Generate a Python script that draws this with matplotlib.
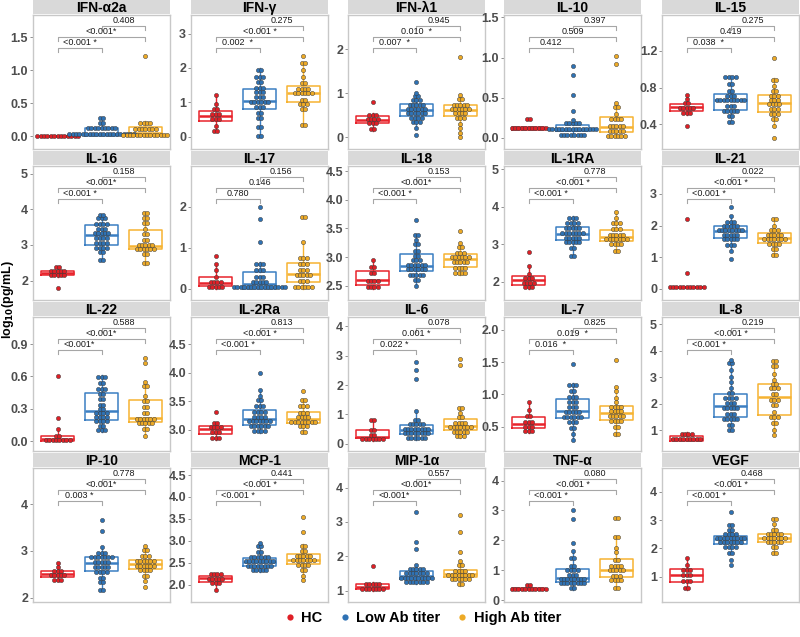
import numpy as np
import matplotlib
matplotlib.use('Agg')
import matplotlib.pyplot as plt
from matplotlib.lines import Line2D


# ---- values (log10 pg/mL) ----
ifna2a_hc = [0, 0, 0, 0, 0, 0, 0, 0, 0, 0, 0, 0, 0]
ifna2a_low = [0, 0, 0, 0, 0, 0, 0, 0, 0, 0, 0, 0, 0, 0, 0, 0.03, 0.03, 0.06, 0.06, 0.06, 0.1, 0.1, 0.1,
              0.13, 0.13, 0.13, 0.13, 0.16, 0.16, 0.2, 0.22, 0.27, 0.3]
ifna2a_high = [0, 0, 0, 0, 0, 0, 0, 0, 0, 0.02, 0.02, 0.05, 0.05, 0.05, 0.09, 0.12, 0.12, 0.15, 0.15, 0.15,
               0.15, 0.18, 0.18, 0.21, 0.23, 1.22]

ifng_hc = [0.15, 0.15, 0.3, 0.45, 0.5, 0.55, 0.6, 0.65, 0.7, 0.75, 0.85, 0.95, 1.2]
ifng_low = [0, 0.05, 0.25, 0.3, 0.5, 0.6, 0.65, 0.75, 0.8, 0.85, 0.9, 0.95, 0.95, 1.0, 1.0, 1.05, 1.05, 1.1,
            1.15, 1.2, 1.25, 1.3, 1.35, 1.38, 1.4, 1.45, 1.55, 1.65, 1.7, 1.7, 1.75, 1.9, 2.0]
ifng_high = [0.3, 0.4, 0.75, 0.85, 0.9, 0.95, 1.0, 1.05, 1.1, 1.2, 1.22, 1.25, 1.25, 1.3, 1.32, 1.35, 1.38,
             1.4, 1.42, 1.5, 1.6, 1.75, 1.95, 2.1, 2.2, 2.35]

ifnl1_hc = [0.15, 0.22, 0.28, 0.32, 0.35, 0.38, 0.4, 0.42, 0.45, 0.48, 0.5, 0.55, 0.8]
ifnl1_low = [0.05, 0.2, 0.3, 0.35, 0.38, 0.4, 0.45, 0.45, 0.48, 0.5, 0.52, 0.55, 0.55, 0.58, 0.58, 0.6, 0.62,
             0.62, 0.65, 0.65, 0.68, 0.7, 0.72, 0.75, 0.75, 0.78, 0.8, 0.85, 0.88, 0.9, 0.95, 1.0, 1.25]
ifnl1_high = [0, 0.1, 0.2, 0.3, 0.4, 0.45, 0.48, 0.5, 0.52, 0.55, 0.58, 0.6, 0.6, 0.62, 0.62, 0.65, 0.68,
              0.7, 0.72, 0.75, 0.75, 0.78, 0.85, 0.9, 0.95, 1.82]

il10_hc = [0.1, 0.1, 0.1, 0.1, 0.1, 0.12, 0.12, 0.12, 0.12, 0.14, 0.14, 0.24, 0.24]
il10_low = [0.02, 0.02, 0.02, 0.02, 0.05, 0.05, 0.05, 0.05, 0.08, 0.08, 0.08, 0.08, 0.08, 0.08, 0.08, 0.08,
            0.1, 0.1, 0.1, 0.13, 0.13, 0.13, 0.13, 0.16, 0.16, 0.16, 0.2, 0.2, 0.22, 0.33, 0.53, 0.78, 0.9]
il10_high = [0.01, 0.01, 0.01, 0.04, 0.04, 0.04, 0.07, 0.07, 0.07, 0.1, 0.1, 0.13, 0.13, 0.13, 0.17, 0.17,
             0.22, 0.22, 0.26, 0.26, 0.3, 0.36, 0.4, 0.43, 0.92, 1.02]

il15_hc = [0.38, 0.5, 0.52, 0.54, 0.56, 0.58, 0.59, 0.6, 0.6, 0.62, 0.64, 0.67, 0.72]
il15_low = [0.42, 0.42, 0.47, 0.5, 0.52, 0.54, 0.56, 0.56, 0.56, 0.58, 0.6, 0.62, 0.64, 0.65, 0.66, 0.66,
            0.66, 0.67, 0.68, 0.68, 0.68, 0.7, 0.7, 0.72, 0.75, 0.78, 0.82, 0.86, 0.9, 0.9, 0.93, 0.93]
il15_high = [0.25, 0.38, 0.45, 0.47, 0.5, 0.52, 0.53, 0.55, 0.56, 0.58, 0.6, 0.6, 0.62, 0.64, 0.65, 0.66,
             0.68, 0.7, 0.71, 0.72, 0.75, 0.78, 0.82, 0.87, 0.9, 1.12]

il16_hc = [1.8, 2.1, 2.12, 2.15, 2.18, 2.2, 2.22, 2.24, 2.25, 2.28, 2.3, 2.35, 2.4]
il16_low = [2.55, 2.62, 2.75, 2.85, 2.88, 2.9, 2.92, 2.95, 3.0, 3.02, 3.05, 3.1, 3.15, 3.2, 3.22, 3.25, 3.28,
            3.3, 3.32, 3.35, 3.38, 3.4, 3.45, 3.5, 3.55, 3.6, 3.62, 3.65, 3.7, 3.75, 3.8, 3.85, 3.85]
il16_high = [2.45, 2.55, 2.7, 2.78, 2.82, 2.85, 2.88, 2.9, 2.92, 2.93, 2.95, 2.97, 2.97, 3.0, 3.05, 3.1,
             3.2, 3.3, 3.33, 3.45, 3.6, 3.65, 3.72, 3.78, 3.85, 3.92]

il17_hc = [0, 0, 0.03, 0.06, 0.1, 0.13, 0.15, 0.18, 0.22, 0.28, 0.45, 0.6, 0.8]
il17_low = [0, 0, 0, 0, 0, 0, 0, 0, 0, 0, 0, 0, 0.03, 0.05, 0.08, 0.1, 0.13, 0.15, 0.18, 0.2, 0.22, 0.25,
            0.3, 0.35, 0.4, 0.45, 0.5, 0.55, 0.6, 0.65, 1.15, 1.7, 2.0]
il17_high = [0, 0, 0.03, 0.05, 0.08, 0.1, 0.15, 0.2, 0.25, 0.28, 0.3, 0.32, 0.35, 0.38, 0.4, 0.45, 0.5,
             0.55, 0.6, 0.65, 0.7, 0.75, 0.8, 1.15, 1.7, 1.8]

il18_hc = [2.45, 2.45, 2.5, 2.52, 2.55, 2.58, 2.6, 2.62, 2.68, 2.75, 2.8, 2.85, 2.95]
il18_low = [2.5, 2.58, 2.62, 2.66, 2.68, 2.72, 2.72, 2.73, 2.75, 2.75, 2.77, 2.78, 2.8, 2.82, 2.83, 2.83,
            2.85, 2.87, 2.88, 2.9, 2.92, 2.95, 2.97, 3.0, 3.05, 3.1, 3.12, 3.2, 3.25, 3.3, 3.38, 3.4, 3.65]
il18_high = [2.68, 2.7, 2.72, 2.75, 2.78, 2.8, 2.82, 2.85, 2.88, 2.9, 2.92, 2.93, 2.95, 2.97, 2.97, 3.0,
             3.0, 3.02, 3.03, 3.05, 3.06, 3.1, 3.15, 3.2, 3.25, 3.45]

il1ra_hc = [1.8, 1.82, 1.9, 1.92, 1.95, 2.0, 2.03, 2.05, 2.1, 2.15, 2.2, 2.42, 2.8]
il1ra_low = [2.65, 2.7, 2.85, 2.95, 3.0, 3.0, 3.05, 3.07, 3.1, 3.12, 3.15, 3.18, 3.2, 3.22, 3.25, 3.25, 3.28,
             3.3, 3.3, 3.32, 3.35, 3.38, 3.4, 3.42, 3.45, 3.48, 3.5, 3.52, 3.55, 3.6, 3.65, 3.7, 3.75]
il1ra_high = [2.8, 2.85, 2.95, 3.0, 3.05, 3.05, 3.07, 3.1, 3.12, 3.12, 3.15, 3.17, 3.18, 3.2, 3.22, 3.25,
              3.28, 3.3, 3.35, 3.4, 3.45, 3.5, 3.55, 3.6, 3.7, 3.85]

il21_hc = [0.02, 0.02, 0.02, 0.02, 0.02, 0.05, 0.05, 0.05, 0.05, 0.05, 0.12, 0.5, 2.2]
il21_low = [0.95, 1.2, 1.35, 1.4, 1.45, 1.5, 1.55, 1.58, 1.6, 1.62, 1.65, 1.7, 1.72, 1.75, 1.78, 1.8, 1.82,
            1.85, 1.85, 1.88, 1.9, 1.9, 1.92, 1.95, 1.98, 2.0, 2.0, 2.05, 2.1, 2.1, 2.15, 2.3, 2.6]
il21_high = [1.05, 1.1, 1.2, 1.3, 1.35, 1.4, 1.45, 1.48, 1.5, 1.5, 1.55, 1.58, 1.6, 1.62, 1.62, 1.65, 1.68,
             1.7, 1.75, 1.78, 1.8, 1.85, 1.9, 2.0, 2.2, 2.2]

il22_hc = [0, 0, 0, 0, 0, 0, 0.02, 0.02, 0.04, 0.05, 0.11, 0.22, 0.6]
il22_low = [0.09, 0.1, 0.12, 0.13, 0.15, 0.17, 0.18, 0.19, 0.2, 0.21, 0.22, 0.23, 0.24, 0.25, 0.25, 0.27,
            0.28, 0.29, 0.3, 0.33, 0.35, 0.38, 0.4, 0.42, 0.45, 0.47, 0.48, 0.5, 0.52, 0.55, 0.58, 0.6, 0.61]
il22_high = [0.05, 0.1, 0.12, 0.15, 0.16, 0.17, 0.18, 0.18, 0.19, 0.2, 0.2, 0.21, 0.21, 0.22, 0.25, 0.28,
             0.3, 0.33, 0.36, 0.39, 0.42, 0.5, 0.52, 0.55, 0.72, 0.77]

il2ra_hc = [2.83, 2.85, 2.9, 2.93, 2.97, 3.0, 3.02, 3.03, 3.05, 3.07, 3.1, 3.13, 3.32]
il2ra_low = [2.95, 2.97, 3.0, 3.02, 3.03, 3.05, 3.07, 3.08, 3.09, 3.1, 3.12, 3.13, 3.14, 3.15, 3.17, 3.17,
             3.19, 3.2, 3.22, 3.25, 3.27, 3.28, 3.3, 3.33, 3.35, 3.38, 3.43, 3.45, 3.5, 3.55, 3.6, 3.7, 4.0]
il2ra_high = [2.95, 2.97, 3.03, 3.07, 3.1, 3.11, 3.12, 3.13, 3.14, 3.15, 3.17, 3.17, 3.18, 3.2, 3.22, 3.24,
              3.25, 3.28, 3.3, 3.33, 3.38, 3.43, 3.45, 3.5, 3.55, 3.68]

il6_hc = [0.1, 0.12, 0.15, 0.18, 0.2, 0.22, 0.22, 0.25, 0.35, 0.45, 0.5, 0.75, 0.85]
il6_low = [0.12, 0.15, 0.18, 0.2, 0.22, 0.25, 0.28, 0.3, 0.32, 0.33, 0.35, 0.38, 0.4, 0.42, 0.44, 0.45, 0.47,
           0.47, 0.5, 0.52, 0.55, 0.58, 0.6, 0.63, 0.65, 0.68, 0.72, 0.78, 0.85, 1.1, 2.2, 2.5, 2.8]
il6_high = [0.2, 0.25, 0.3, 0.35, 0.4, 0.42, 0.45, 0.48, 0.5, 0.52, 0.55, 0.55, 0.58, 0.6, 0.62, 0.65, 0.7,
            0.75, 0.78, 0.85, 0.95, 1.05, 1.2, 1.2, 2.7, 2.9]

il7_hc = [0.4, 0.42, 0.45, 0.47, 0.5, 0.52, 0.54, 0.57, 0.6, 0.65, 0.67, 0.75, 0.88]
il7_low = [0.29, 0.38, 0.45, 0.5, 0.55, 0.58, 0.6, 0.62, 0.63, 0.64, 0.65, 0.67, 0.68, 0.7, 0.7, 0.72, 0.74,
           0.75, 0.78, 0.8, 0.82, 0.85, 0.88, 0.9, 0.93, 0.96, 0.98, 1.02, 1.08, 1.12, 1.15, 1.18, 1.47]
il7_high = [0.36, 0.4, 0.48, 0.52, 0.56, 0.59, 0.6, 0.62, 0.64, 0.66, 0.68, 0.69, 0.7, 0.71, 0.72, 0.74,
            0.76, 0.78, 0.8, 0.82, 0.84, 0.88, 0.95, 1.05, 1.12, 1.54]

il8_hc = [0.57, 0.58, 0.6, 0.6, 0.62, 0.65, 0.68, 0.7, 0.72, 0.78, 0.8, 0.9, 0.92]
il8_low = [0.95, 1.05, 1.15, 1.25, 1.35, 1.38, 1.42, 1.45, 1.5, 1.55, 1.62, 1.7, 1.75, 1.8, 1.85, 1.85, 1.9,
           1.95, 2.0, 2.1, 2.15, 2.2, 2.25, 2.3, 2.37, 2.4, 2.6, 2.8, 3.0, 3.25, 3.45, 3.6, 3.65]
il8_high = [0.83, 1.0, 1.2, 1.35, 1.45, 1.52, 1.55, 1.7, 1.9, 2.0, 2.1, 2.2, 2.2, 2.3, 2.4, 2.5, 2.6, 2.65,
            2.7, 2.75, 2.9, 3.1, 3.35, 3.5, 3.6, 3.6]

ip10_hc = [2.35, 2.38, 2.42, 2.45, 2.47, 2.48, 2.5, 2.52, 2.55, 2.58, 2.6, 2.65, 2.75]
ip10_low = [2.15, 2.2, 2.3, 2.38, 2.4, 2.45, 2.52, 2.55, 2.58, 2.6, 2.62, 2.63, 2.65, 2.68, 2.7, 2.72, 2.75,
            2.78, 2.78, 2.8, 2.82, 2.84, 2.85, 2.86, 2.87, 2.88, 2.9, 2.92, 2.95, 3.0, 3.08, 3.42, 3.65]
ip10_high = [2.23, 2.35, 2.45, 2.5, 2.55, 2.58, 2.6, 2.62, 2.65, 2.67, 2.68, 2.7, 2.72, 2.72, 2.74, 2.75,
             2.76, 2.78, 2.8, 2.82, 2.85, 2.88, 2.92, 2.98, 3.05, 3.1]

mcp1_hc = [1.88, 2.0, 2.05, 2.07, 2.1, 2.12, 2.15, 2.16, 2.18, 2.2, 2.22, 2.25, 2.28]
mcp1_low = [2.3, 2.32, 2.35, 2.36, 2.38, 2.4, 2.42, 2.43, 2.44, 2.45, 2.46, 2.47, 2.48, 2.5, 2.5, 2.51, 2.52,
            2.53, 2.55, 2.56, 2.57, 2.58, 2.6, 2.6, 2.62, 2.63, 2.65, 2.68, 2.72, 2.78, 2.85, 2.9, 2.95]
mcp1_high = [2.1, 2.2, 2.3, 2.38, 2.42, 2.45, 2.48, 2.5, 2.52, 2.53, 2.55, 2.55, 2.57, 2.57, 2.6, 2.62,
             2.63, 2.65, 2.68, 2.7, 2.75, 2.78, 2.85, 2.92, 3.2, 3.55]

mip1a_hc = [1.0, 1.0, 1.03, 1.05, 1.08, 1.1, 1.12, 1.15, 1.18, 1.2, 1.22, 1.25, 1.72]
mip1a_low = [1.18, 1.2, 1.22, 1.25, 1.27, 1.28, 1.3, 1.32, 1.33, 1.34, 1.36, 1.37, 1.38, 1.4, 1.42, 1.42,
             1.44, 1.45, 1.46, 1.48, 1.5, 1.52, 1.53, 1.55, 1.58, 1.6, 1.62, 1.65, 1.7, 1.75, 2.2, 2.42, 3.28]
mip1a_high = [1.15, 1.22, 1.28, 1.32, 1.35, 1.36, 1.38, 1.4, 1.42, 1.44, 1.45, 1.48, 1.48, 1.5, 1.5, 1.52,
              1.55, 1.58, 1.6, 1.62, 1.7, 1.78, 1.85, 2.12, 2.72, 3.2]

tnfa_hc = [0.33, 0.35, 0.36, 0.37, 0.38, 0.39, 0.39, 0.4, 0.41, 0.42, 0.45, 0.5, 0.55]
tnfa_low = [0.35, 0.45, 0.5, 0.52, 0.55, 0.57, 0.58, 0.6, 0.62, 0.63, 0.65, 0.67, 0.68, 0.7, 0.7, 0.72, 0.75,
            0.77, 0.8, 0.85, 0.9, 0.95, 0.98, 1.0, 1.05, 1.1, 1.2, 1.4, 1.45, 1.65, 1.9, 2.7, 3.0]
tnfa_high = [0.38, 0.45, 0.6, 0.68, 0.7, 0.72, 0.75, 0.8, 0.88, 0.95, 0.98, 0.98, 1.0, 1.05, 1.1, 1.15, 1.2,
             1.22, 1.3, 1.4, 1.6, 1.75, 2.05, 2.15, 2.75, 2.75]

vegf_hc = [0.55, 0.65, 0.78, 0.8, 0.9, 1.0, 1.08, 1.12, 1.2, 1.28, 1.3, 1.4, 1.65]
vegf_low = [1.4, 1.6, 1.8, 1.9, 2.0, 2.05, 2.1, 2.12, 2.15, 2.18, 2.2, 2.22, 2.25, 2.26, 2.28, 2.3, 2.32,
            2.32, 2.35, 2.36, 2.38, 2.4, 2.42, 2.44, 2.45, 2.48, 2.5, 2.55, 2.6, 2.7, 2.8, 2.85, 3.3]
vegf_high = [1.8, 1.9, 2.0, 2.1, 2.15, 2.2, 2.22, 2.25, 2.28, 2.3, 2.33, 2.36, 2.38, 2.38, 2.4, 2.42, 2.45,
             2.47, 2.5, 2.52, 2.55, 2.6, 2.7, 2.85, 3.0, 3.05]

# panel titles, y ticks, y limits and p-values (HC vs Low, HC vs High, Low vs High)
titles = ['IFN-α2a', 'IFN-γ', 'IFN-λ1', 'IL-10', 'IL-15',
          'IL-16', 'IL-17', 'IL-18', 'IL-1RA', 'IL-21',
          'IL-22', 'IL-2Ra', 'IL-6', 'IL-7', 'IL-8',
          'IP-10', 'MCP-1', 'MIP-1α', 'TNF-α', 'VEGF']
hc_values = [ifna2a_hc, ifng_hc, ifnl1_hc, il10_hc, il15_hc, il16_hc, il17_hc, il18_hc, il1ra_hc, il21_hc,
             il22_hc, il2ra_hc, il6_hc, il7_hc, il8_hc, ip10_hc, mcp1_hc, mip1a_hc, tnfa_hc, vegf_hc]
low_values = [ifna2a_low, ifng_low, ifnl1_low, il10_low, il15_low, il16_low, il17_low, il18_low, il1ra_low,
              il21_low, il22_low, il2ra_low, il6_low, il7_low, il8_low, ip10_low, mcp1_low, mip1a_low,
              tnfa_low, vegf_low]
high_values = [ifna2a_high, ifng_high, ifnl1_high, il10_high, il15_high, il16_high, il17_high, il18_high,
               il1ra_high, il21_high, il22_high, il2ra_high, il6_high, il7_high, il8_high, ip10_high,
               mcp1_high, mip1a_high, tnfa_high, vegf_high]
yticks = [['0.0', '0.5', '1.0', '1.5'], ['0', '1', '2', '3'], ['0', '1', '2'], ['0.0', '0.5', '1.0', '1.5'],
          ['0.4', '0.8', '1.2'],
          ['2', '3', '4', '5'], ['0', '1', '2'], ['2.5', '3.0', '3.5', '4.0', '4.5'], ['2', '3', '4', '5'],
          ['0', '1', '2', '3'],
          ['0.0', '0.3', '0.6', '0.9'], ['3.0', '3.5', '4.0', '4.5'], ['0', '1', '2', '3', '4'],
          ['0.5', '1.0', '1.5', '2.0'], ['1', '2', '3', '4', '5'],
          ['2', '3', '4'], ['2.0', '2.5', '3.0', '3.5', '4.0', '4.5'], ['1', '2', '3', '4'],
          ['0', '1', '2', '3', '4'], ['1', '2', '3', '4']]
ylims = [(-0.19, 1.84), (-0.36, 3.54), (-0.27, 2.78), (-0.14, 1.53), (0.13, 1.59),
         (1.46, 5.21), (-0.27, 2.99), (2.25, 4.59), (1.51, 5.08), (-0.35, 3.88),
         (-0.09, 1.15), (2.63, 4.98), (-0.25, 4.32), (0.12, 2.2), (0.21, 5.27),
         (1.91, 4.77), (1.61, 4.66), (0.67, 4.57), (-0.06, 4.42), (0.11, 4.84)]
p_hc_low = ['<0.001 *', '0.002  *', '0.007  *', '0.412', '0.038  *',
            '<0.001 *', '0.780', '<0.001 *', '<0.001 *', '<0.001 *',
            '<0.001*', '<0.001 *', '0.022 *', '0.016  *', '<0.001 *',
            '0.003 *', '<0.001 *', '<0.001*', '<0.001 *', '<0.001 *']
p_hc_high = ['<0.001*', '<0.001 *', '0.010  *', '0.509', '0.419',
             '<0.001*', '0.146', '<0.001*', '<0.001 *', '<0.001 *',
             '<0.001*', '<0.001 *', '0.001 *', '0.019  *', '<0.001 *',
             '<0.001*', '<0.001 *', '<0.001*', '<0.001 *', '<0.001 *']
p_low_high = ['0.408', '0.275', '0.945', '0.397', '0.275',
              '0.158', '0.156', '0.153', '0.778', '0.022',
              '0.588', '0.813', '0.078', '0.825', '0.219',
              '0.778', '0.441', '0.557', '0.080', '0.468']

group_names = ['HC', 'Low Ab titer', 'High Ab titer']
box_colors = ['#E8232B', '#3B7EC2', '#F6B331']
dot_colors = ['#DF1F26', '#2F72B4', '#EDAA26']

W, H = 800, 637
PANEL_W, PANEL_H, STRIP_H = 137, 134, 15
col_left = [33, 191, 348, 504, 662]
row_top = [15, 166, 317, 468]
XLIM = (0.4375, 3.5625)
DOT_PX = 4.2      # dot diameter
STEP_PX = 3.4     # sideways spacing of stacked dots


def fig_rect(left, top, w, h):
   '''Pixel box (from top-left) to figure fraction rect'''
   return [left / W, 1 - (top + h) / H, w / W, h / H]


def dot_bins(values, binwidth):
   '''
   Dot-density binning like ggplot geom_dotplot

   Parameters
   ----------
   # values: the data of one group
   # binwidth: bin width in data units
   '''
   vals = np.sort(np.asarray(values, dtype=float))
   centres, counts = [], []
   i = 0
   while i < len(vals):
      j = i
      while j + 1 < len(vals) and vals[j + 1] < vals[i] + binwidth:
         j += 1
      centres.append((vals[i] + vals[j]) / 2)
      counts.append(j - i + 1)
      i = j + 1
   return centres, counts


def draw_panel(fig, idx):
   '''
   Draw one facet: strip, boxes, dots and comparison brackets

   Parameters
   ----------
   # fig: the figure
   # idx: index of the cytokine
   '''
   r, c = divmod(idx, 5)
   left, top = col_left[c], row_top[r]

   # grey strip with the cytokine name
   sax = fig.add_axes(fig_rect(left, top - STRIP_H, PANEL_W, STRIP_H - 1))
   sax.set_facecolor('#D9D9D9')
   sax.set_xticks([])
   sax.set_yticks([])
   for s in sax.spines.values():
      s.set_visible(False)
   sax.text(0.5, 0.45, titles[idx], ha='center', va='center', fontsize=10, fontweight='bold',
            transform=sax.transAxes)

   ax = fig.add_axes(fig_rect(left, top, PANEL_W, PANEL_H))
   ymin, ymax = ylims[idx]
   ax.set_xlim(*XLIM)
   ax.set_ylim(ymin, ymax)

   data = [hc_values[idx], low_values[idx], high_values[idx]]
   bp = ax.boxplot(data, positions=[1, 2, 3], widths=0.75, showfliers=False, showcaps=False,
                   whis=1.5, patch_artist=False)
   for g in range(3):
      col = box_colors[g]
      bp['boxes'][g].set(color=col, linewidth=1.1)
      bp['medians'][g].set(color=col, linewidth=1.8)
      for w in bp['whiskers'][2 * g:2 * g + 2]:
         w.set(color=col, linewidth=1.0)

   # dots, stacked sideways within each bin
   binwidth = DOT_PX * (ymax - ymin) / PANEL_H
   dx = STEP_PX * (XLIM[1] - XLIM[0]) / PANEL_W
   for g in range(3):
      centres, counts = dot_bins(data[g], binwidth)
      xs, ys = [], []
      for yc, n in zip(centres, counts):
         for k in range(n):
            xs.append(g + 1 + (k - (n - 1) / 2) * dx)
            ys.append(yc)
      ax.scatter(xs, ys, s=(DOT_PX * 0.72) ** 2, color=dot_colors[g], edgecolor='#3a3a3a',
                 linewidth=0.35, zorder=3)

   # comparison brackets (axes-fraction heights)
   trans = ax.get_xaxis_transform()
   brackets = [(1, 2, 0.754, p_hc_low[idx]), (1, 3, 0.836, p_hc_high[idx]), (2, 3, 0.918, p_low_high[idx])]
   for x0, x1, yb, lab in brackets:
      ax.plot([x0, x0, x1, x1], [yb - 0.03, yb, yb, yb - 0.03], color='#A6A6A6', lw=0.8,
              transform=trans, clip_on=False)
      ax.text((x0 + x1) / 2, yb + 0.006, lab, ha='center', va='bottom', fontsize=6.5,
              color='#1a1a1a', transform=trans)

   ax.set_xticks([])
   ax.set_yticks([float(t) for t in yticks[idx]])
   ax.set_yticklabels(yticks[idx])
   ax.tick_params(axis='y', length=2, width=0.6, color='#7f7f7f', pad=1.5, labelsize=9,
                  labelcolor='#4D4D4D')
   for lab in ax.get_yticklabels():
      lab.set_fontweight('bold')
   for s in ax.spines.values():
      s.set_color('#C8C8C8')
      s.set_linewidth(1.0)


plt.rcParams['font.family'] = ['Liberation Sans', 'DejaVu Sans']

fig = plt.figure(figsize=(W / 100, H / 100), dpi=100)
for i in range(len(titles)):
   draw_panel(fig, i)

fig.text(8.5 / W, 1 - 300 / H, r'log$_{\mathbf{10}}$(pg/mL)', rotation=90, ha='center', va='center',
         fontsize=9, fontweight='bold')

handles = [Line2D([], [], marker='o', linestyle='', markersize=4.5, markerfacecolor=dot_colors[g],
                  markeredgewidth=0, label=group_names[g]) for g in range(3)]
leg = fig.legend(handles=handles, loc='center', bbox_to_anchor=(422 / W, 1 - 618 / H), ncol=3,
                 frameon=False, handletextpad=0.3, columnspacing=1.0, handlelength=1.0,
                 prop={'weight': 'bold', 'size': 10.5})

fig.savefig('out.png', dpi=100)
